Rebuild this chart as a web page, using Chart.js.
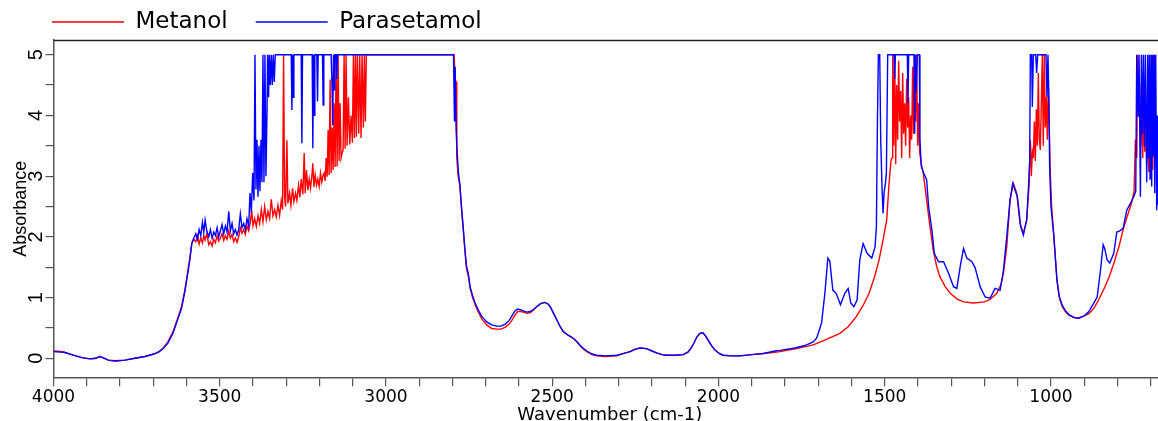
<!DOCTYPE html>
<html>
<head>
<meta charset="utf-8">
<script src="https://cdn.jsdelivr.net/npm/chart.js@4/dist/chart.umd.min.js"></script>
<style>
  html, body { margin: 0; padding: 0; background: #fff; overflow: hidden; }
  #wrap { position: relative; width: 1158px; height: 421px; overflow: hidden; background: #fff; }
  #c { position: absolute; left: 0; top: 0; }
</style>
</head>
<body>
<div id="wrap"><canvas id="c" width="1166" height="432"></canvas></div>
<script>
const seriesNames = ['Metanol', 'Parasetamol'];
const xTickValues = [700, 800, 900, 1000, 1100, 1200, 1300, 1400, 1500, 1600, 1700, 1800, 1900, 2000,
  2100, 2200, 2300, 2400, 2500, 2600, 2700, 2800, 2900, 3000, 3100, 3200, 3300, 3400, 3500, 3600,
  3700, 3800, 3900, 4000];
const xLabelledTicks = [1000, 1500, 2000, 2500, 3000, 3500, 4000];
const yTickValues = [0, 0.5, 1, 1.5, 2, 2.5, 3, 3.5, 4, 4.5, 5];
const yLabelledTicks = [0, 1, 2, 3, 4, 5];

const metanolPoints = [
  [4000,0.12],[3970,0.11],[3945,0.06],[3915,0.01],[3890,-0.01],[3872,0.00],[3862,0.03],[3852,0.01],[3835,-0.03],[3815,-0.05],[3785,-0.03],[3755,0.00],[3725,0.03],[3698,0.07],[3682,0.11],[3670,0.17],[3656,0.27],[3641,0.43],[3627,0.65],[3615,0.85],[3605,1.12],[3597,1.40],[3590,1.65],[3584,1.90],[3578,1.96],
  [3572,1.92],[3567,2.02],[3562,1.88],[3557,1.98],[3552,1.90],[3548,2.02],[3544,1.95],[3539,2.05],[3533,1.87],[3528,1.92],[3523,1.85],[3518,1.96],[3513,1.90],[3508,2.02],[3503,1.93],[3498,1.98],[3493,2.05],[3488,1.94],[3483,2.02],[3478,1.96],[3473,2.10],[3468,1.98],[3463,2.04],[3458,1.92],[3453,1.98],[3448,1.91],[3443,2.00],[3438,2.15],[3433,2.06],[3428,2.12],[3423,2.04],[3418,2.18],[3413,2.10],[3408,2.24],[3404,2.44],[3400,2.18],[3395,2.30],[3390,2.17],[3385,2.35],[3380,2.22],[3375,2.45],[3370,2.25],[3365,2.50],[3360,2.28],[3355,2.42],[3350,2.30],[3345,2.62],[3340,2.35],[3335,2.45],[3330,2.33],[3325,2.52],[3320,2.35],[3315,2.60],[3311,2.45],[3308,5.0],[3305,2.66],[3302,2.50],[3298,3.59],[3295,2.55],[3290,2.72],[3286,2.52],[3281,2.80],[3277,2.58],[3272,2.72],[3268,2.60],[3263,2.85],[3259,2.65],[3255,2.95],[3250,2.70],[3246,3.38],[3243,2.72],[3239,3.10],[3235,2.77],[3231,2.95],[3227,2.80],[3223,3.00],[3220,3.21],[3217,2.82],[3213,3.02],[3209,2.85],[3205,2.95],[3201,2.83],[3197,3.05],[3193,2.90],[3189,3.02],[3186,3.05],[3183,2.92],[3180,3.30],[3177,2.99],[3174,3.76],[3171,3.02],[3168,4.59],[3165,3.05],[3162,3.80],[3159,3.10],[3156,4.20],[3153,3.15],[3150,5.0],[3147,3.16],[3144,5.0],[3141,3.25],[3138,4.20],[3135,3.30],[3132,3.38],[3129,3.43],[3126,5.0],[3123,3.45],[3120,5.0],[3117,3.50],[3113,4.30],[3109,3.52],[3105,4.00],[3101,3.55],[3098,5.0],[3095,3.63],[3092,5.0],[3089,3.65],[3086,5.0],[3082,3.70],[3079,5.0],[3075,3.63],[3072,5.0],[3068,3.80],[3065,5.0],[3062,3.90],[3059,5.0],
  [2795,5.0],[2792,4.60],[2789,4.55],[2787,3.30],[2783,3.00],[2778,2.85],[2773,2.48],[2768,2.15],[2763,1.80],[2758,1.48],[2752,1.34],[2747,1.15],[2740,1.01],[2732,0.88],[2722,0.76],[2712,0.65],[2697,0.55],[2682,0.49],[2667,0.48],[2655,0.48],[2642,0.51],[2630,0.56],[2622,0.62],[2612,0.71],[2604,0.77],[2596,0.77],[2587,0.76],[2577,0.74],[2567,0.75],[2557,0.79],[2547,0.85],[2535,0.90],[2522,0.92],[2512,0.89],[2505,0.84],[2496,0.74],[2486,0.63],[2476,0.52],[2467,0.44],[2452,0.38],[2437,0.33],[2427,0.28],[2417,0.21],[2406,0.15],[2396,0.11],[2380,0.06],[2366,0.04],[2340,0.03],[2306,0.04],[2285,0.08],[2266,0.11],[2250,0.15],[2236,0.17],[2216,0.16],[2200,0.12],[2186,0.09],[2170,0.06],[2156,0.05],[2130,0.05],[2106,0.06],[2092,0.10],[2082,0.17],[2073,0.26],[2065,0.35],[2056,0.41],[2047,0.42],[2039,0.37],[2031,0.30],[2020,0.20],[2011,0.14],[1998,0.08],[1986,0.05],[1960,0.04],[1935,0.04],[1900,0.06],[1865,0.08],[1830,0.10],[1815,0.11],[1765,0.16],[1715,0.22],[1675,0.31],[1635,0.41],[1610,0.52],[1585,0.69],[1565,0.87],[1547,1.07],[1530,1.35],[1517,1.62],[1505,1.95],[1494,2.28],[1487,2.88],[1481,3.27],
  [1478,3.3],[1476,5.0],[1473,3.5],[1470,5.0],[1467,3.2],[1464,4.5],[1461,3.6],[1458,4.9],[1455,3.9],[1452,4.4],[1449,3.3],[1446,4.7],[1443,3.7],[1440,4.2],[1437,3.5],[1434,4.6],[1431,3.8],[1428,4.3],[1425,3.3],[1422,4.0],[1419,3.6],[1416,4.8],[1413,3.7],[1410,5.0],[1407,3.9],[1404,5.0],[1401,3.5],[1398,4.2],[1395,3.4],[1390,3.2],[1384,3.05],[1374,2.61],[1364,2.17],[1354,1.78],[1344,1.52],[1334,1.34],[1318,1.18],[1303,1.07],[1283,0.98],[1263,0.93],[1233,0.91],[1200,0.93],[1183,0.97],[1163,1.07],[1150,1.22],[1143,1.40],[1133,1.84],[1123,2.61],[1113,2.88],[1103,2.72],[1093,2.22],[1083,2.06],[1073,2.28],[1066,2.83],[1062,3.6],[1059,3.0],[1056,3.4],[1053,3.3],[1050,3.9],[1047,3.25],[1044,4.1],[1041,3.5],[1038,4.7],[1035,3.6],[1032,3.43],[1029,4.2],[1026,5.0],[1023,3.5],[1020,5.0],[1017,3.8],[1014,4.3],[1011,3.6],[1008,4.5],[1005,3.8],[1002,3.05],[998,2.5],[992,2.06],[982,1.29],[975,1.0],[966,0.85],[956,0.76],[946,0.71],[930,0.67],[917,0.66],[900,0.70],[885,0.74],[870,0.83],[855,0.98],[840,1.15],[825,1.34],[810,1.58],[795,1.85],[783,2.12],[770,2.35],[758,2.55],[750,2.75],[746,3.6],[742,3.3],[739,5.0],[736,3.98],[733,4.5],[730,3.5],[727,4.2],[724,3.3],[721,4.6],[718,3.4],[715,3.9],[712,3.2],[709,4.4],[706,3.07],[703,3.8],[700,2.95],[697,4.1],[694,3.1],[691,5.0],[688,3.3],[685,4.0],[682,3.2],[679,3.8],[670,3.5]
];

const parasetamolPoints = [
  [4000,0.11],[3970,0.10],[3945,0.06],[3915,0.01],[3890,-0.01],[3872,0.00],[3862,0.03],[3852,0.01],[3835,-0.03],[3815,-0.04],[3785,-0.03],[3755,0.00],[3725,0.03],[3698,0.07],[3682,0.11],[3670,0.16],[3656,0.25],[3641,0.41],[3627,0.63],[3615,0.82],[3605,1.10],[3597,1.37],[3590,1.62],[3584,1.89],[3578,1.98],
  [3572,2.05],[3567,1.96],[3562,2.12],[3557,2.02],[3552,2.24],[3548,2.08],[3544,2.28],[3539,2.10],[3533,2.00],[3528,2.12],[3523,1.98],[3518,2.08],[3513,2.02],[3508,2.15],[3503,2.00],[3498,2.10],[3493,2.20],[3488,2.05],[3483,2.18],[3478,2.08],[3473,2.42],[3468,2.10],[3463,2.22],[3458,2.05],[3453,2.12],[3448,2.03],[3443,2.12],[3438,2.38],[3433,2.15],[3428,2.22],[3423,2.12],[3418,2.30],[3413,2.18],[3409,2.72],[3405,2.40],[3401,3.05],[3397,2.60],[3394,5.0],[3391,2.78],[3388,3.60],[3385,2.66],[3382,3.50],[3379,2.75],[3376,3.60],[3373,2.90],[3370,5.0],[3367,2.90],[3364,5.0],[3361,3.00],[3358,4.00],[3356,5.0],[3353,4.30],[3351,5.0],[3348,4.50],[3345,5.0],[3342,4.50],[3339,5.0],[3336,4.55],[3333,5.0],[3285,5.0],[3283,4.09],[3281,5.0],[3279,4.30],[3277,5.0],[3255,5.0],[3253,3.54],[3251,5.0],[3222,5.0],[3220,3.46],[3218,5.0],[3216,4.00],[3214,5.0],[3208,5.0],[3206,4.23],[3204,5.0],[3191,5.0],[3189,4.17],[3187,5.0],[3165,5.0],[3162,4.40],[3160,3.84],[3158,5.0],[3156,4.42],[3154,5.0],[3150,5.0],[3148,4.60],[3146,5.0],
  [2797,5.0],[2794,3.90],[2792,4.80],[2789,3.76],[2786,3.40],[2782,3.05],[2778,2.88],[2773,2.50],[2768,2.17],[2763,1.82],[2758,1.52],[2752,1.38],[2747,1.18],[2740,1.04],[2732,0.91],[2722,0.79],[2712,0.69],[2697,0.60],[2682,0.55],[2667,0.53],[2655,0.53],[2642,0.56],[2630,0.62],[2622,0.69],[2612,0.78],[2604,0.81],[2596,0.80],[2587,0.78],[2577,0.76],[2567,0.77],[2557,0.80],[2547,0.85],[2535,0.90],[2522,0.92],[2512,0.89],[2505,0.84],[2496,0.74],[2486,0.63],[2476,0.52],[2467,0.44],[2452,0.38],[2437,0.33],[2427,0.28],[2417,0.22],[2406,0.16],[2396,0.12],[2380,0.07],[2366,0.05],[2340,0.04],[2306,0.05],[2285,0.08],[2266,0.11],[2250,0.15],[2236,0.17],[2216,0.16],[2200,0.12],[2186,0.09],[2170,0.06],[2156,0.05],[2130,0.05],[2106,0.06],[2092,0.10],[2082,0.17],[2073,0.26],[2065,0.35],[2056,0.41],[2047,0.42],[2039,0.37],[2031,0.30],[2020,0.20],[2011,0.14],[1998,0.08],[1986,0.05],[1960,0.04],[1935,0.04],[1900,0.06],[1865,0.08],[1830,0.12],[1815,0.13],[1770,0.17],[1740,0.21],[1715,0.27],[1705,0.33],[1700,0.41],[1690,0.58],[1680,1.07],[1671,1.65],[1665,1.60],[1656,1.12],[1646,1.07],[1633,0.88],[1620,1.07],[1610,1.15],[1602,0.91],[1593,0.85],[1583,0.96],[1575,1.62],[1565,1.89],[1553,1.73],[1539,1.65],[1529,1.84],[1525,2.17],[1522,3.87],[1519,5.0],[1515,5.0],[1512,3.60],[1508,2.80],[1505,2.39],[1502,2.72],[1498,2.88],[1495,3.05],[1491,5.0],[1472,5.0],[1470,4.60],[1468,5.0],[1432,5.0],[1430,4.20],[1428,5.0],[1412,5.0],[1410,3.70],[1408,5.0],[1405,4.40],[1402,5.0],[1396,5.0],[1394,3.60],[1390,3.16],[1383,3.05],[1374,2.94],[1368,2.50],[1358,2.11],[1351,1.73],[1338,1.59],[1323,1.59],[1308,1.40],[1293,1.18],[1283,1.15],[1273,1.51],[1263,1.81],[1253,1.65],[1238,1.59],[1228,1.49],[1213,1.18],[1198,1.01],[1183,0.99],[1168,1.15],[1153,1.12],[1143,1.45],[1133,2.00],[1123,2.61],[1115,2.88],[1101,2.66],[1091,2.17],[1083,2.03],[1073,2.28],[1067,2.88],[1064,3.24],[1062,5.0],[1058,5.0],[1056,4.14],[1053,5.0],[1046,5.0],[1043,4.70],[1040,5.0],[1015,5.0],[1012,4.30],[1009,5.0],[1006,4.20],[1004,3.16],[1000,2.50],[992,2.06],[982,1.29],[975,1.02],[966,0.87],[956,0.78],[946,0.72],[930,0.67],[917,0.66],[900,0.70],[886,0.77],[872,0.90],[861,1.01],[851,1.45],[843,1.87],[838,1.80],[831,1.62],[823,1.57],[811,1.73],[802,2.08],[793,2.10],[783,2.14],[772,2.44],[761,2.55],[751,2.66],[745,2.75],[742,5.0],[738,3.98],[735,5.0],[731,2.66],[728,5.0],[725,3.70],[722,5.0],[719,3.48],[716,5.0],[712,2.90],[709,5.0],[707,3.30],[704,5.0],[702,2.94],[699,5.0],[697,2.83],[695,5.0],[693,3.32],[690,5.0],[688,2.72],[685,5.0],[682,2.44],[680,4.0],[678,2.60],[670,2.80]
];

const seriesColors = ['#ff0000', '#0000ff'];

const toXY = pts => pts.map(p => ({ x: p[0], y: p[1] }));

const frameAndYLabels = {
  id: 'frameAndYLabels',
  afterDraw(chart) {
    const { ctx, chartArea } = chart;
    const yScale = chart.scales.y;
    ctx.save();
    ctx.strokeStyle = '#222';
    ctx.lineWidth = 1.5;
    ctx.beginPath();
    ctx.moveTo(chartArea.left, chartArea.top + 0.5);
    ctx.lineTo(chartArea.right + 10, chartArea.top + 0.5);
    ctx.stroke();
    ctx.restore();

    yLabelledTicks.forEach(v => {
      const py = yScale.getPixelForValue(v);
      const px = yScale.right - 17;
      ctx.save();
      ctx.setTransform(0, -1, 1, 0, px, py);
      ctx.fillStyle = '#000';
      ctx.font = '20px "Liberation Sans", Arial, sans-serif';
      ctx.textAlign = 'center';
      ctx.textBaseline = 'middle';
      ctx.fillText(String(v), 0, 0);
      ctx.restore();
    });
  }
};

new Chart(document.getElementById('c'), {
  type: 'line',
  data: {
    datasets: [
      { label: seriesNames[0], data: toXY(metanolPoints), borderColor: seriesColors[0], backgroundColor: seriesColors[0],
        borderWidth: 1.4, pointRadius: 0, tension: 0, fill: false, order: 1 },
      { label: seriesNames[1], data: toXY(parasetamolPoints), borderColor: seriesColors[1], backgroundColor: seriesColors[1],
        borderWidth: 1.4, pointRadius: 0, tension: 0, fill: false, order: 0 }
    ]
  },
  options: {
    responsive: false,
    devicePixelRatio: 1,
    animation: false,
    events: [],
    layout: { padding: { top: -17.5, left: 24, right: 0, bottom: 0 } },
    plugins: {
      tooltip: { enabled: false },
      legend: {
        position: 'top',
        align: 'start',
        maxHeight: 57.5,
        labels: {
          usePointStyle: true,
          pointStyle: 'line',
          pointStyleWidth: 72,
          padding: 28,
          color: '#000',
          font: { family: 'DejaVu Sans', size: 23 },
          sort: (a, b) => a.datasetIndex - b.datasetIndex
        }
      }
    },
    scales: {
      x: {
        type: 'linear',
        reverse: true,
        min: 654,
        max: 4000,
        afterFit: s => { s.height = 54.7; },
        afterBuildTicks: s => { s.ticks = xTickValues.map(v => ({ value: v })); },
        border: { display: true, color: '#555', width: 1.5 },
        grid: { drawOnChartArea: false, drawTicks: true, tickLength: 9, color: '#555', lineWidth: 1.2 },
        ticks: {
          autoSkip: false, maxRotation: 0, minRotation: 0, padding: 1,
          color: '#000', font: { family: 'DejaVu Sans', size: 17 },
          callback: v => xLabelledTicks.includes(v) ? String(v) : ''
        },
        title: { display: true, text: 'Wavenumber (cm-1)', color: '#000',
          font: { family: 'DejaVu Sans', size: 18 }, padding: { top: 0, bottom: 5.5 } }
      },
      y: {
        type: 'linear',
        min: -0.313,
        max: 5.242,
        afterFit: s => { s.width = 29.5; },
        afterBuildTicks: s => { s.ticks = yTickValues.map(v => ({ value: v })); },
        border: { display: true, color: '#555', width: 1.5 },
        grid: { drawOnChartArea: false, drawTicks: true, tickLength: 8, color: '#555', lineWidth: 1.2 },
        ticks: { display: false },
        title: { display: true, text: 'Absorbance', color: '#000',
          font: { family: 'Liberation Sans', size: 18 }, padding: { top: -14, bottom: 0 } }
      }
    }
  },
  plugins: [frameAndYLabels]
});
</script>
</body>
</html>
